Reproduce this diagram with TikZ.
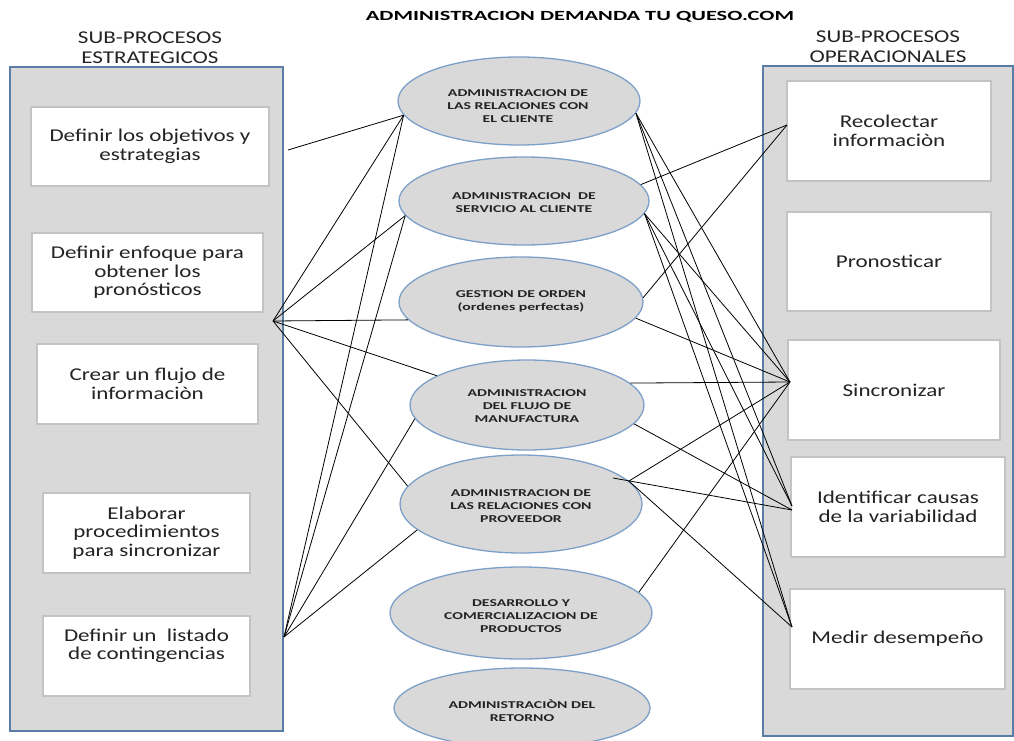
\documentclass[tikz,border=0pt]{standalone}
\usepackage{fontspec}
\usetikzlibrary{shapes.geometric}
\setmainfont{Carlito}
\newfontfamily\boxfont{Carlito}[FakeStretch=1.28]
\newfontfamily\ellfont{Carlito}[FakeStretch=1.5]
\newfontfamily\ttlfont{Carlito}[FakeStretch=1.6]
\definecolor{panelgray}{RGB}{217,217,217}
\definecolor{panelborder}{RGB}{90,125,165}
\definecolor{boxborder}{RGB}{195,195,195}
\definecolor{ellborder}{RGB}{125,160,200}
\definecolor{txt}{RGB}{35,35,35}
\begin{document}
\begin{tikzpicture}[x=1pt,y=-1pt,
  panel/.style={draw=panelborder,fill=panelgray,line width=1.3pt,inner sep=0pt},
  sbox/.style={draw=boxborder,fill=white,line width=1.3pt,inner sep=0pt,align=center,text=txt,
    font=\boxfont\fontsize{18}{18.5}\selectfont},
  ell/.style={ellipse,draw=ellborder,fill=panelgray,line width=1.3pt,inner sep=0pt,align=center,text=txt,
    font=\ellfont\bfseries\fontsize{10.5}{13}\selectfont},
  elltext/.style={align=center,text=txt,inner sep=0pt,font=\ellfont\bfseries\fontsize{10.5}{13}\selectfont},
  hdr/.style={align=center,text=txt,font=\boxfont\fontsize{18}{20}\selectfont},
  conn/.style={draw=black,line width=0.8pt}]
\useasboundingbox (0,0) rectangle (1014,741);
% title and headers
\node[text=black,font=\ttlfont\bfseries\fontsize{14}{16}\selectfont] (title) at (580,17) {ADMINISTRACION DEMANDA TU QUESO.COM};
\node[hdr] (lhdr) at (150,48) {SUB-PROCESOS\\ESTRATEGICOS};
\node[hdr] (rhdr) at (888,47) {SUB-PROCESOS\\OPERACIONALES};
% panels
\node[panel,minimum width=273pt,minimum height=664pt] (lpanel) at (146.5,399) {};
\node[panel,minimum width=250pt,minimum height=670pt] (rpanel) at (888,401) {};
% left boxes
\node[sbox,minimum width=238pt,minimum height=79pt] (b1) at (150,146.5) {Definir los objetivos y\\estrategias};
\node[sbox,minimum width=231pt,minimum height=79pt] (b2) at (147.5,272.5) {Definir enfoque para\\obtener los\\pronósticos};
\node[sbox,minimum width=221pt,minimum height=80pt] (b3) at (147.5,384) {Crear un flujo de\\informaciòn};
\node[sbox,minimum width=207pt,minimum height=80pt] (b4) at (146.5,533) {Elaborar\\procedimientos\\para sincronizar};
\node[sbox,minimum width=207pt,minimum height=80pt] (b5) at (146.5,656) {};
\node[sbox,draw=none,fill=none] (b5t) at (146.5,646) {Definir un\ \ listado\\de contingencias};
% right boxes
\node[sbox,minimum width=204pt,minimum height=100pt] (r1) at (889,131) {Recolectar\\informaciòn};
\node[sbox,minimum width=204pt,minimum height=99pt] (r2) at (889,261.5) {Pronosticar};
\node[sbox,minimum width=212pt,minimum height=100pt] (r3) at (894,390) {Sincronizar};
\node[sbox,minimum width=214pt,minimum height=100pt] (r4) at (898,507) {Identificar causas\\de la variabilidad};
\node[sbox,minimum width=215pt,minimum height=100pt] (r5) at (897.5,639) {Medir desempeño};
% ellipses
\node[ell,minimum width=242pt,minimum height=88pt] (e1) at (519,101) {};
\node[elltext] (e1t) at (518,106) {ADMINISTRACION DE\\LAS RELACIONES CON\\EL CLIENTE};
\node[ell,minimum width=250pt,minimum height=88pt] (e2) at (524,201) {};
\node[elltext] (e2t) at (524,203) {ADMINISTRACION\ \ DE\\SERVICIO AL CLIENTE};
\node[ell,minimum width=244pt,minimum height=90pt] (e3) at (521,302) {};
\node[elltext] (e3t) at (521,301.5) {GESTION DE ORDEN\\(ordenes perfectas)};
\node[ell,minimum width=234pt,minimum height=90pt] (e4) at (527,405) {};
\node[elltext] (e4t) at (527,406) {ADMINISTRACION\\DEL FLUJO DE\\MANUFACTURA};
\node[ell,minimum width=242pt,minimum height=98pt] (e5) at (521,504) {};
\node[elltext] (e5t) at (521,506) {ADMINISTRACION DE\\LAS RELACIONES CON\\PROVEEDOR};
\node[ell,minimum width=262pt,minimum height=92pt] (e6) at (521,613) {};
\node[elltext] (e6t) at (521,616) {DESARROLLO Y\\COMERCIALIZACION DE\\PRODUCTOS};
\node[ell,minimum width=256pt,minimum height=80pt] (e7) at (522,708) {};
\node[elltext] (e7t) at (522,711) {ADMINISTRACIÒN DEL\\RETORNO};
% hub points
\coordinate (hb1) at (288,150);
\coordinate (hb2) at (273,321);
\coordinate (hb5) at (284,637);
\coordinate (hrec) at (787,125);
\coordinate (hsin) at (790,382);
\coordinate (hid) at (792,506);
\coordinate (hid2) at (792,510);
\coordinate (hmed) at (792,627);
\coordinate (e5s) at (613,478);
% left connectors
\draw[conn] (hb1) -- (e1.187);
\draw[conn] (hb2) -- (e1.187);
\draw[conn] (hb2) -- (e2.187);
\draw[conn] (hb2) -- (e3.189.7);
\draw[conn] (hb2) -- (e4.162);
\draw[conn] (hb2) -- (e5.171.5);
\draw[conn] (hb5) -- (e1.187);
\draw[conn] (hb5) -- (e2.187);
\draw[conn] (hb5) -- (e4.187.6);
\draw[conn] (hb5) -- (e5.194.7);
% right connectors
\draw[conn] (e1.354.7) -- (hsin);
\draw[conn] (e1.354.7) -- (hid);
\draw[conn] (e1.354.7) -- (hmed);
\draw[conn] (e2.8.7) -- (hrec);
\draw[conn] (e2.354.8) -- (hsin);
\draw[conn] (e2.354.8) -- (hid);
\draw[conn] (e2.354.8) -- (hmed);
\draw[conn] (e3.2.8) -- (hrec);
\draw[conn] (e3.352.8) -- (hsin);
\draw[conn] (e4.12.4) -- (hsin);
\draw[conn] (e4.350.5) -- (hid2);
\draw[conn] (e5.12.8) -- (hsin);
\draw[conn] (e5s) -- (hid2);
\draw[conn] (e5.12.8) -- (hmed);
\draw[conn] (e6.10.5) -- (hsin);
\end{tikzpicture}
\end{document}
